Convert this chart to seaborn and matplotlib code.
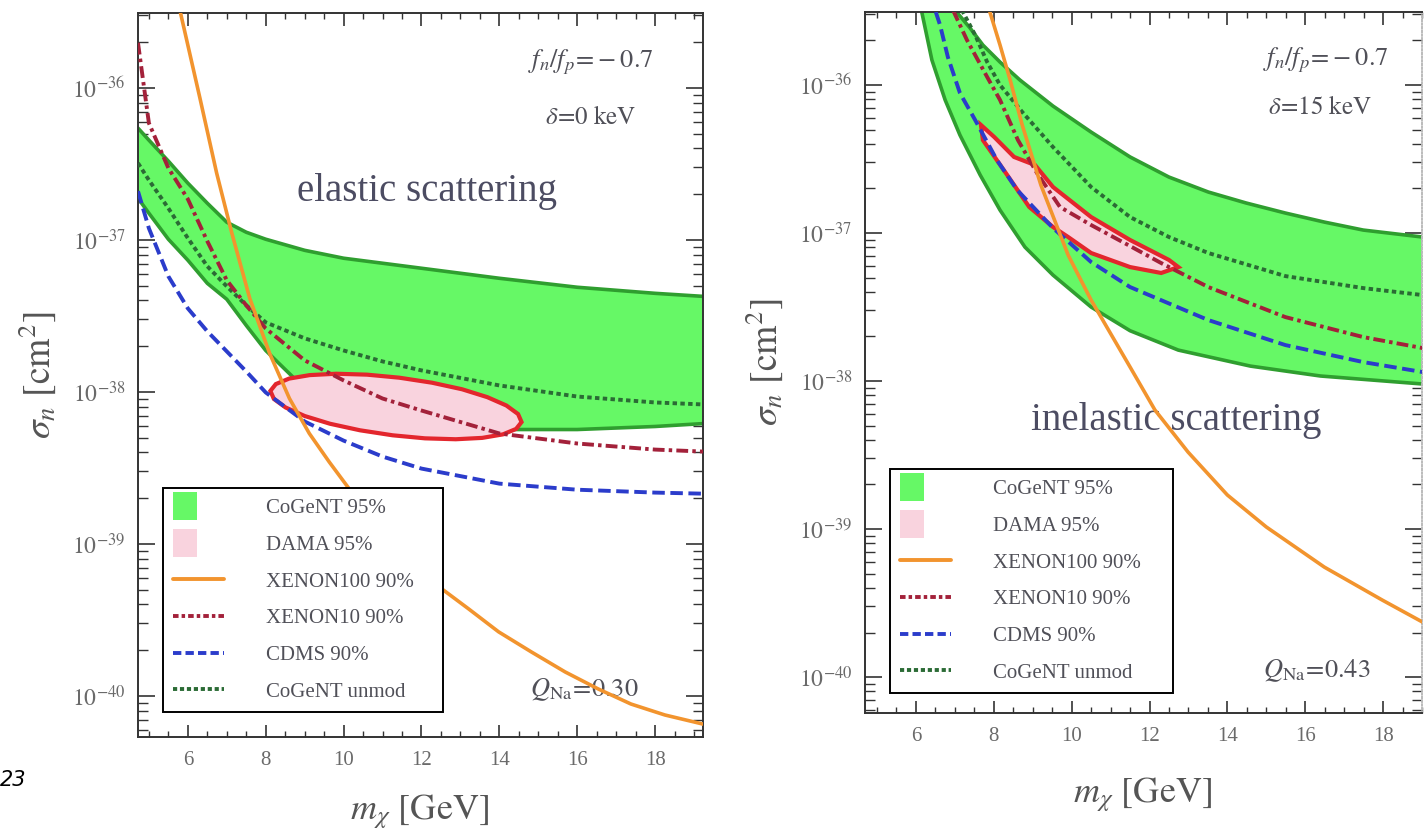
import numpy as np
import pandas as pd
import matplotlib
matplotlib.use("Agg")
import matplotlib.pyplot as plt
import seaborn as sns
from matplotlib.patches import Rectangle, Patch
from matplotlib.lines import Line2D
from matplotlib.legend_handler import HandlerPatch
from matplotlib.ticker import MultipleLocator, LogLocator, FixedLocator, FuncFormatter, NullFormatter

# ---------------- data : left panel (elastic, delta = 0 keV) ----------------
# cross sections given as log10(sigma_n / cm^2)
el_mass = [4.72, 5.0, 5.5, 6.0, 6.5, 7.0, 7.5, 8.0, 9.0, 10.0, 11.0, 12.0, 14.0, 16.0, 18.0, 19.23]
el_cogent_hi = [-36.264, -36.343, -36.481, -36.626, -36.758, -36.883, -36.949, -36.995, -37.068,
                -37.120, -37.153, -37.186, -37.252, -37.311, -37.351, -37.371]
el_cogent_lo = [-36.725, -36.824, -36.995, -37.133, -37.285, -37.390, -37.562, -37.727, -37.977,
                -38.096, -38.161, -38.208, -38.247, -38.247, -38.227, -38.208]
el_unmod = [-36.494, -36.606, -36.791, -36.988, -37.173, -37.305, -37.430, -37.542, -37.647,
            -37.727, -37.799, -37.858, -37.957, -38.030, -38.069, -38.082]
el_xenon10 = [-35.703, -36.231, -36.527, -36.731, -37.008, -37.265, -37.430, -37.582, -37.792,
              -37.924, -38.043, -38.122, -38.273, -38.339, -38.379, -38.392]
el_cdms = [-36.679, -36.923, -37.239, -37.450, -37.601, -37.733, -37.865, -38.003, -38.194,
           -38.320, -38.425, -38.504, -38.603, -38.643, -38.662, -38.669]
el_xe100_mass = [5.80, 6.31, 6.74, 7.13, 7.59, 8.10, 8.61, 9.12, 9.63, 10.14, 12.52, 13.21,
                 13.98, 14.82, 15.69, 16.54, 17.38, 18.25, 19.23]
el_xe100 = [-35.493, -36.066, -36.560, -36.955, -37.384, -37.746, -38.043, -38.273, -38.460,
            -38.636, -39.295, -39.427, -39.578, -39.710, -39.842, -39.954, -40.053, -40.125,
            -40.185]
el_dama_mass = [14.57, 14.43, 14.09, 13.56, 12.88, 12.09, 11.26, 10.42, 9.65, 9.00, 8.51, 8.21,
                8.12, 8.26, 8.60, 9.13, 9.81, 10.60, 11.43, 12.27, 13.04, 13.69, 14.18, 14.48]
el_dama = [-38.198, -38.243, -38.279, -38.302, -38.311, -38.305, -38.285, -38.252, -38.209,
           -38.158, -38.102, -38.046, -37.993, -37.948, -37.912, -37.889, -37.880, -37.886,
           -37.906, -37.939, -37.982, -38.034, -38.089, -38.145]

# ---------------- data : right panel (inelastic, delta = 15 keV) ----------------
in_cogent_hi_mass = [7.00, 7.39, 7.72, 8.16, 8.67, 9.52, 10.50, 11.50, 12.50, 13.51, 14.48,
                     15.49, 16.49, 17.49, 19.01]
in_cogent_hi = [-35.493, -35.615, -35.730, -35.845, -35.966, -36.142, -36.318, -36.486,
                -36.622, -36.723, -36.797, -36.865, -36.926, -36.980, -37.027]
in_cogent_lo_mass = [6.15, 6.41, 6.75, 7.13, 7.65, 8.16, 8.80, 9.52, 10.50, 11.50, 12.74,
                     14.59, 16.39, 19.01]
in_cogent_lo = [-35.507, -35.831, -36.101, -36.338, -36.608, -36.845, -37.095, -37.284,
                -37.500, -37.660, -37.791, -37.899, -37.966, -38.020]
in_cdms_mass = [6.51, 6.62, 6.82, 7.13, 7.52, 8.08, 8.60, 9.52, 10.50, 11.50, 13.51, 15.49, 17.49, 19.01]
in_cdms = [-35.507, -35.595, -35.811, -36.054, -36.236, -36.507, -36.709, -36.966,
           -37.196, -37.365, -37.588, -37.757, -37.872, -37.939]
in_xenon10_mass = [6.95, 7.31, 7.83, 8.16, 8.62, 9.11, 9.70, 10.50, 11.50, 12.30, 13.51, 15.49, 17.49, 19.01]
in_xenon10 = [-35.493, -35.696, -35.946, -36.101, -36.372, -36.595, -36.824, -36.946,
              -37.088, -37.203, -37.365, -37.568, -37.703, -37.777]
in_unmod_mass = [7.18, 7.52, 7.83, 8.16, 8.73, 9.52, 10.50, 11.50, 12.50, 13.51, 15.49, 17.49, 19.01]
in_unmod = [-35.493, -35.662, -35.845, -36.000, -36.182, -36.419, -36.689, -36.892,
            -37.027, -37.135, -37.291, -37.372, -37.419]
in_xe100_mass = [7.90, 8.16, 8.42, 8.73, 9.21, 9.91, 10.50, 11.50, 12.14, 12.99, 14.00,
                 15.00, 16.49, 17.98, 19.01]
in_xe100 = [-35.507, -35.730, -35.966, -36.270, -36.676, -37.149, -37.453, -37.905,
            -38.196, -38.480, -38.770, -38.986, -39.257, -39.480, -39.628]
in_dama_mass = [7.67, 8.01, 8.52, 9.06, 9.52, 10.50, 11.50, 12.50, 12.74, 12.30, 11.50,
                10.50, 9.91, 9.52, 8.91, 8.31, 7.72]
in_dama = [-36.270, -36.351, -36.486, -36.541, -36.689, -36.892, -37.047, -37.182, -37.230,
           -37.270, -37.230, -37.135, -37.027, -36.959, -36.824, -36.595, -36.372]

legend_labels = ["CoGeNT 95%", "DAMA 95%", "XENON100 90%", "XENON10 90%", "CDMS 90%", "CoGeNT unmod"]
x_ticks = [6, 8, 10, 12, 14, 16, 18]
y_tick_exponents = [-40, -39, -38, -37, -36]

# ---------------- style ----------------
sns.set_theme(style="ticks")
plt.rcParams["font.family"] = ["Liberation Serif", "DejaVu Serif"]
plt.rcParams["mathtext.fontset"] = "stix"
plt.rcParams["lines.scale_dashes"] = False

C_GREEN_FILL = "#66f866"
C_GREEN_EDGE = "#2f9e2f"
C_PINK = "#f9d3de"
C_RED = "#e3262d"
C_ORANGE = "#f2942e"
C_XE10 = "#a3213a"
C_BLUE = "#2b3ccb"
C_UNMOD = "#2b6b35"
C_TEXT = "#505058"

LS_XE10 = (0, (8.5, 3.0, 2.5, 3.0))
LS_CDMS = (0, (9.0, 4.0))
LS_UNMOD = (0, (3.2, 2.4))
LW = 2.8

fig = plt.figure(figsize=(14.24, 8.36), dpi=100)
axL = fig.add_axes([0.0969, 0.1184, 0.3968, 0.8660])
axR = fig.add_axes([0.6074, 0.1471, 0.3912, 0.8385])


def sig(v):
    return 10.0 ** np.asarray(v, dtype=float)


def line(ax, x, y, color, ls, lw=LW, z=5):
    df = pd.DataFrame({"m": x, "s": sig(y)})
    sns.lineplot(data=df, x="m", y="s", ax=ax, color=color, linestyle=ls, lw=lw,
                 estimator=None, sort=False, zorder=z, legend=False)


def square_patch(legend, orig_handle, xdescent, ydescent, width, height, fontsize):
    return Rectangle((-xdescent, -ydescent - 0.45 * height), 0.46 * width, 1.9 * height)


def make_legend(ax, anchor):
    handles = [
        Patch(facecolor=C_GREEN_FILL, edgecolor="none"),
        Patch(facecolor=C_PINK, edgecolor="none"),
        Line2D([], [], color=C_ORANGE, lw=LW),
        Line2D([], [], color=C_XE10, lw=LW, linestyle=(0, (4, 2.2, 2.5, 2.2))),
        Line2D([], [], color=C_BLUE, lw=LW, linestyle=(0, (6, 3))),
        Line2D([], [], color=C_UNMOD, lw=LW, linestyle=(0, (3, 2))),
    ]
    leg = ax.legend(handles, legend_labels, loc="lower left", bbox_to_anchor=anchor,
                    mode="expand", frameon=True, fancybox=False, framealpha=1,
                    edgecolor="black", fontsize=15, labelspacing=0.82, handlelength=2.45,
                    handletextpad=2.0, borderpad=0.5, borderaxespad=0,
                    handler_map={Patch: HandlerPatch(patch_func=square_patch)})
    leg.get_frame().set_linewidth(1.4)
    leg.set_zorder(20)
    for t in leg.get_texts():
        t.set_color(C_TEXT)
    return leg


def style_axes(ax, xlim, ylim):
    ax.set_yscale("log")
    ax.set_xlim(*xlim)
    ax.set_ylim(*ylim)
    ax.set_xticks(x_ticks)
    ax.xaxis.set_minor_locator(MultipleLocator(0.5))
    ax.yaxis.set_major_locator(FixedLocator([10.0 ** e for e in y_tick_exponents]))
    ax.yaxis.set_minor_locator(LogLocator(base=10, subs=np.arange(2, 10), numticks=20))
    ax.yaxis.set_minor_formatter(NullFormatter())
    ax.yaxis.set_major_formatter(FuncFormatter(lambda v, _: r"$10^{%d}$" % round(np.log10(v))))
    ax.tick_params(which="both", direction="in", top=True, right=True, colors="#333333",
                   labelcolor="#6a6a6a", labelsize=15)
    ax.tick_params(axis="y", which="major", length=12, width=1.2, pad=9, labelsize=17)
    ax.tick_params(axis="y", which="minor", length=7, width=1.0)
    ax.tick_params(axis="x", which="major", length=9, width=1.2, pad=10)
    ax.tick_params(axis="x", which="minor", length=4, width=1.0)
    for s in ax.spines.values():
        s.set_linewidth(1.4)
        s.set_color("#333333")
    ax.set_xlabel(r"$m_\chi\ \mathrm{[GeV]}$", fontsize=26, color="#555555")
    ax.set_ylabel(r"$\sigma_n\ [\mathrm{cm}^2]$", fontsize=27, color="#555555")
    ax.grid(False)


def panel(ax, hi, lo, hi_mass, lo_mass, dama_m, dama_s, xe100_m, xe100, xe10_m, xe10,
          cdms_m, cdms, unmod_m, unmod):
    # CoGeNT 95% band
    bx = np.concatenate([np.asarray(lo_mass), np.asarray(hi_mass)[::-1]])
    by = np.concatenate([sig(lo), sig(hi)[::-1]])
    ax.fill(bx, by, color=C_GREEN_FILL, lw=0, zorder=1)
    line(ax, hi_mass, hi, C_GREEN_EDGE, "-", lw=2.6, z=2)
    line(ax, lo_mass, lo, C_GREEN_EDGE, "-", lw=2.6, z=2)
    # DAMA 95% region
    ax.fill(dama_m, sig(dama_s), facecolor=C_PINK, edgecolor=C_RED, lw=3.0, zorder=3,
            closed=True)
    line(ax, unmod_m, unmod, C_UNMOD, LS_UNMOD, z=5)
    line(ax, xe10_m, xe10, C_XE10, LS_XE10, z=6)
    line(ax, cdms_m, cdms, C_BLUE, LS_CDMS, z=7)
    line(ax, xe100_m, xe100, C_ORANGE, "-", lw=2.6, z=8)


# ---------------- left panel ----------------
panel(axL, el_cogent_hi, el_cogent_lo, el_mass, el_mass, el_dama_mass, el_dama,
      el_xe100_mass, el_xe100, el_mass, el_xenon10, el_mass, el_cdms, el_mass, el_unmod)
style_axes(axL, (4.72, 19.23), (10 ** -40.27, 10 ** -35.507))
axL.yaxis.set_label_coords(-0.142, 0.5)
axL.xaxis.set_label_coords(0.499, -0.076)
make_legend(axL, (0.044, 0.0345, 0.496, 0.3))
axL.text(0.5115, 0.753, "elastic scattering", transform=axL.transAxes, ha="center",
         va="center", fontsize=28, color="#4c4c62")
axL.text(0.802, 0.932, r"$f_n/f_p\!=\!-0.7$", transform=axL.transAxes, ha="center",
         va="center", fontsize=19, color=C_TEXT)
axL.text(0.802, 0.856, r"$\delta\!=\!0\ \mathrm{keV}$", transform=axL.transAxes, ha="center",
         va="center", fontsize=18, color=C_TEXT)
axL.text(0.789, 0.065, r"$Q_{\mathrm{Na}}\!=\!0.30$", transform=axL.transAxes, ha="center",
         va="center", fontsize=19, color=C_TEXT, zorder=4)

# ---------------- right panel ----------------
panel(axR, in_cogent_hi, in_cogent_lo, in_cogent_hi_mass, in_cogent_lo_mass, in_dama_mass,
      in_dama, in_xe100_mass, in_xe100, in_xenon10_mass, in_xenon10, in_cdms_mass, in_cdms,
      in_unmod_mass, in_unmod)
style_axes(axR, (4.69, 19.0), (10 ** -40.243, 10 ** -35.507))
axR.spines["right"].set_color("#bbbbbb")
axR.spines["right"].set_linestyle(":")
axR.yaxis.set_label_coords(-0.144, 0.5)
axR.xaxis.set_label_coords(0.499, -0.088)
make_legend(axR, (0.045, 0.0285, 0.508, 0.3))
axR.text(0.558, 0.418, "inelastic scattering", transform=axR.transAxes, ha="center",
         va="center", fontsize=28, color="#4c4c62", zorder=4)
axR.text(0.828, 0.9315, r"$f_n/f_p\!=\!-0.7$", transform=axR.transAxes, ha="center",
         va="center", fontsize=19, color=C_TEXT)
axR.text(0.817, 0.864, r"$\delta\!=\!15\ \mathrm{keV}$", transform=axR.transAxes, ha="center",
         va="center", fontsize=18, color=C_TEXT)
axR.text(0.811, 0.061, r"$Q_{\mathrm{Na}}\!=\!0.43$", transform=axR.transAxes, ha="center",
         va="center", fontsize=19, color=C_TEXT)

fig.text(0.0, 0.067, "23", style="italic", fontsize=15, color="black", family="DejaVu Sans",
         ha="left", va="center")

fig.savefig("out.png", dpi=100)
